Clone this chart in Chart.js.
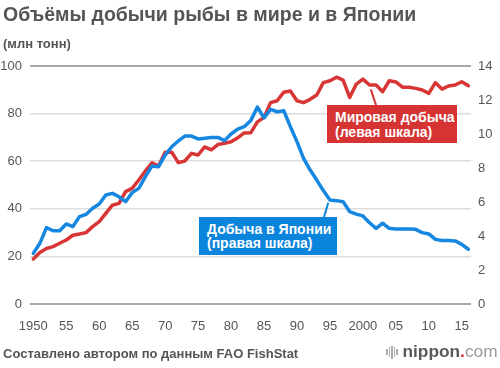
<!DOCTYPE html>
<html><head><meta charset="utf-8">
<script src="https://cdn.jsdelivr.net/npm/chart.js@4.4.0/dist/chart.umd.min.js"></script>
<style>
html,body{margin:0;padding:0;background:#fff;}
#wrap{position:relative;width:500px;height:368px;overflow:hidden;font-family:"Liberation Sans",Arial,Helvetica,sans-serif;}
#c{position:absolute;left:0;top:0;}
.title{position:absolute;left:3px;top:4px;font-size:19.5px;line-height:20px;font-weight:bold;color:#555;white-space:nowrap;}
.unit{position:absolute;left:3px;top:38px;font-size:13px;line-height:12px;font-weight:bold;color:#555;white-space:nowrap;}
.src{position:absolute;left:3px;top:347px;font-size:13px;line-height:13px;font-weight:bold;color:#555;white-space:nowrap;}
.box{position:absolute;color:#fff;font-weight:bold;font-size:14px;line-height:14.5px;padding:5px 8px 4px 8px;box-sizing:border-box;white-space:nowrap;}
.logo{position:absolute;left:386px;top:343px;white-space:nowrap;font-size:17.3px;line-height:17px;}
.logo .bars{display:inline-block;vertical-align:baseline;margin-right:4px;}
.logo .bars i{display:inline-block;width:1.5px;background:#aaa;margin-right:1px;vertical-align:middle;}
.logo .n{font-weight:bold;color:#5a5a5a;}
.logo .d{font-weight:bold;color:#e03030;}
.logo .com{color:#999;}
</style></head>
<body>
<div id="wrap">
<canvas id="c" width="500" height="368"></canvas>
<div class="title">Объёмы добычи рыбы в мире и в Японии</div>
<div class="unit">(млн тонн)</div>
<div class="box" id="boxW" style="left:327px;top:105px;width:130px;height:38px;background:#d63333;">Мировая добыча<br>(левая шкала)</div>
<div class="box" id="boxJ" style="left:199px;top:216.5px;width:138px;height:38.5px;background:#0b84dc;">Добыча в Японии<br>(правая шкала)</div>
<div class="src">Составлено автором по данным FAO FishStat</div>
<div class="logo"><span class="bars"><i style="height:6px"></i><i style="height:10px"></i><i style="height:13px"></i><i style="height:10px"></i><i style="height:6px"></i></span><span class="n">nippon</span><span class="d">.</span><span class="com">com</span></div>
</div>
<script>
const years = [1950,1951,1952,1953,1954,1955,1956,1957,1958,1959,
1960,1961,1962,1963,1964,1965,1966,1967,1968,1969,
1970,1971,1972,1973,1974,1975,1976,1977,1978,1979,
1980,1981,1982,1983,1984,1985,1986,1987,1988,1989,
1990,1991,1992,1993,1994,1995,1996,1997,1998,1999,
2000,2001,2002,2003,2004,2005,2006,2007,2008,2009,
2010,2011,2012,2013,2014,2015,2016];
// World capture, million tonnes (left axis)
const worldCatch = [18.9,21.6,23.3,24.1,25.5,26.9,28.9,29.4,30.0,32.5,
34.6,38.1,41.5,42.3,47.2,48.6,52.1,55.9,59.3,58.0,
63.8,63.8,59.4,60.1,63.3,62.6,66.0,64.8,67.0,67.5,
68.2,69.8,71.9,72.0,76.5,78.4,84.6,85.4,89.0,89.5,
85.4,84.6,86.0,87.8,93.0,93.8,95.3,94.1,86.8,92.4,
94.5,92.0,92.0,89.2,93.8,93.3,91.1,91.1,90.6,89.9,
88.5,93.0,90.3,91.6,92.0,93.4,91.7];
// Japan capture, million tonnes (right axis)
const japanCatch = [2.98,3.57,4.49,4.31,4.31,4.71,4.55,5.14,5.27,5.63,
5.88,6.41,6.51,6.31,6.02,6.55,6.80,7.49,8.12,8.08,
8.76,9.25,9.59,9.88,9.88,9.71,9.75,9.80,9.80,9.61,
10.0,10.29,10.43,10.80,11.58,10.95,11.45,11.31,11.37,10.43,
9.55,8.57,7.88,7.29,6.67,6.12,6.08,6.02,5.43,5.29,
5.18,4.78,4.45,4.75,4.45,4.41,4.41,4.41,4.39,4.20,
4.12,3.80,3.73,3.73,3.71,3.51,3.22];
const xTickValues = [1950,1955,1960,1965,1970,1975,1980,1985,1990,1995,2000,2005,2010,2015];
const xTickLabels = ['1950','55','60','65','70','75','80','85','90','95','2000','05','10','15'];
const leftTicks = [0,20,40,60,80,100];
const rightTicks = [0,2,4,6,8,10,12,14];
// leader lines: anchor (year, value, axis) to box top point
const leaders = [
  {year:2001.2, value:90.2, axis:'yL', toX:376, toY:105, color:'#d63333'},
  {year:1994.75, value:5.96, axis:'yR', toX:324, toY:217, color:'#0b84dc'}
];

const RED = '#d83535', BLUE = '#1587e0';
const tickFont = {family:'"Liberation Sans", Arial, sans-serif', size:13};
const tickColor = '#555';

const leaderPlugin = {
  id:'leaders',
  afterDatasetsDraw(chart){
    const c = chart.ctx;
    c.save();
    leaders.forEach(l=>{
      const x = chart.scales.x.getPixelForValue(l.year);
      const y = chart.scales[l.axis].getPixelForValue(l.value);
      c.strokeStyle = l.color; c.lineWidth = 2;
      c.beginPath(); c.moveTo(x,y); c.lineTo(l.toX,l.toY); c.stroke();
    });
    c.restore();
  }
};

new Chart(document.getElementById('c'), {
  type:'line',
  data:{datasets:[
    {label:'Добыча в Японии', data:years.map((y,i)=>({x:y,y:japanCatch[i]})), yAxisID:'yR',
     borderColor:BLUE, borderWidth:3.5, pointRadius:0, tension:0, borderJoinStyle:'round', borderCapStyle:'round', order:0},
    {label:'Мировая добыча', data:years.map((y,i)=>({x:y,y:worldCatch[i]})), yAxisID:'yL',
     borderColor:RED, borderWidth:3.5, pointRadius:0, tension:0, borderJoinStyle:'round', borderCapStyle:'round', order:1}
  ]},
  options:{
    responsive:false, animation:false, devicePixelRatio:1,
    layout:{padding:{left:0,right:0,top:66,bottom:0}},
    plugins:{legend:{display:false}, tooltip:{enabled:false}},
    scales:{
      x:{type:'linear', min:1949.5, max:2016.4,
        afterBuildTicks:s=>{s.ticks = xTickValues.map(v=>({value:v}));},
        afterFit:s=>{s.height = 64;},
        grid:{display:false}, border:{display:false},
        ticks:{padding:7, maxRotation:0, autoSkip:false, font:tickFont, color:tickColor,
          callback:v=>xTickLabels[xTickValues.indexOf(v)]}},
      yL:{position:'left', min:0, max:100,
        afterBuildTicks:s=>{s.ticks = leftTicks.map(v=>({value:v}));},
        afterFit:s=>{s.width = 30;},
        grid:{drawTicks:false,
          color:ctx=>(ctx.tick && (ctx.tick.value===0||ctx.tick.value===100))?'#a8a8a8':'#dddddd',
          lineWidth:ctx=>(ctx.tick && (ctx.tick.value===0||ctx.tick.value===100))?2:1.5},
        border:{display:false},
        ticks:{padding:8, font:tickFont, color:tickColor}},
      yR:{position:'right', min:0, max:14,
        afterBuildTicks:s=>{s.ticks = rightTicks.map(v=>({value:v}));},
        afterFit:s=>{s.width = 29;},
        grid:{display:false, drawTicks:false}, border:{display:false},
        ticks:{padding:7, font:tickFont, color:tickColor}}
    }
  },
  plugins:[leaderPlugin]
});
</script>
</body></html>
